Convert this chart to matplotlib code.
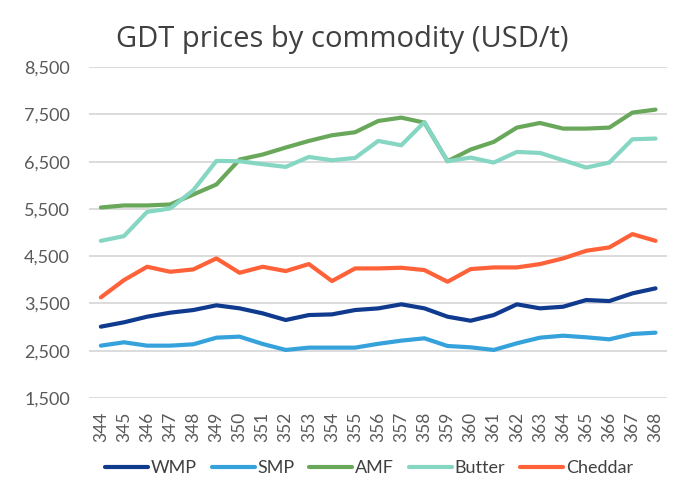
import matplotlib
matplotlib.use("Agg")
import matplotlib.pyplot as plt

plt.rcParams['font.family'] = ['Lato', 'DejaVu Sans']

# GDT event numbers
events = [str(n) for n in range(344, 369)]

wmp = [3008, 3100, 3219, 3304, 3360, 3460, 3396, 3290, 3149, 3254, 3268, 3360, 3395,
       3481, 3396, 3219, 3134, 3254, 3481, 3396, 3430, 3572, 3550, 3713, 3819]
smp = [2606, 2677, 2606, 2606, 2635, 2775, 2797, 2642, 2515, 2564, 2564, 2564, 2645,
       2712, 2762, 2599, 2571, 2515, 2656, 2775, 2817, 2783, 2740, 2853, 2881]
amf = [5531, 5574, 5574, 5595, 5806, 6018, 6546, 6652, 6800, 6940, 7060, 7124, 7362,
       7433, 7327, 6510, 6758, 6919, 7222, 7320, 7201, 7201, 7222, 7539, 7603]
butter = [4825, 4925, 5438, 5510, 5897, 6517, 6510, 6447, 6390, 6601, 6531, 6580, 6940,
          6848, 7340, 6510, 6588, 6482, 6707, 6686, 6531, 6376, 6482, 6975, 6990]
cheddar = [3628, 3994, 4276, 4170, 4220, 4453, 4149, 4276, 4185, 4333, 3973, 4241, 4241,
           4255, 4206, 3959, 4227, 4262, 4262, 4333, 4453, 4614, 4686, 4967, 4825]

series = [("WMP", wmp, "#0f3a8e"), ("SMP", smp, "#35a2db"), ("AMF", amf, "#69a85a"),
          ("Butter", butter, "#85d6c2"), ("Cheddar", cheddar, "#ff6139")]

fig = plt.figure(figsize=(6.87, 4.98), dpi=100)
ax = fig.add_axes([0.130, 0.201, 0.841, 0.664])

x = range(len(events))
for name, vals, col in series:
    ax.plot(x, vals, color=col, lw=3.0, label=name, solid_capstyle='round', solid_joinstyle='round')

ax.set_ylim(1500, 8500)
ax.set_yticks(range(1500, 8501, 1000))
ax.set_yticklabels(["{:,}".format(v) for v in range(1500, 8501, 1000)])
ax.set_xlim(-0.5, len(events) - 0.5)
ax.set_xticks(list(x))
ax.set_xticklabels(events, rotation=90)
ax.tick_params(axis='both', length=0, labelsize=13, colors='#595959')
ax.tick_params(axis='x', pad=10, labelsize=12.5)
ax.tick_params(axis='y', pad=14)
ax.grid(axis='y', color='#d9d9d9', lw=1.3)
ax.set_axisbelow(True)
for s in ax.spines.values():
    s.set_visible(False)

fig.text(0.498, 0.921, "GDT prices by commodity (USD/t)", ha='center', va='center',
         fontsize=21, color='#404040', family=['Open Sans', 'DejaVu Sans'])

ax.legend(loc='center', bbox_to_anchor=(0.537, 0.06), bbox_transform=fig.transFigure,
          ncol=5, frameon=False, fontsize=13, handlelength=2.4, handletextpad=0.15,
          columnspacing=0.8, labelcolor='#404040')

fig.savefig("out.png", dpi=100)
